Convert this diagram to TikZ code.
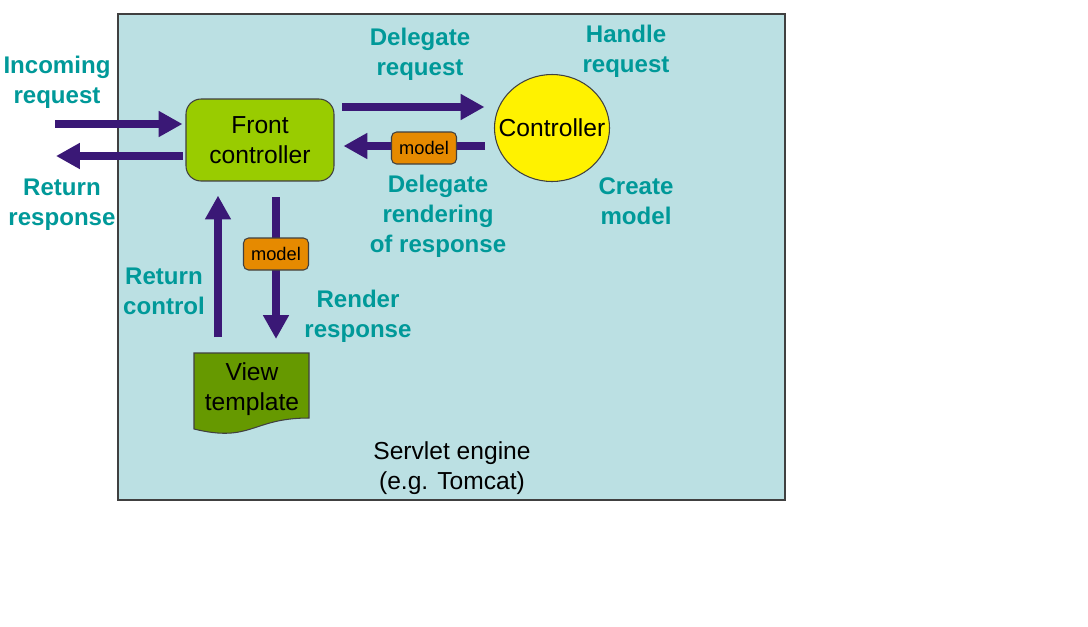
\documentclass[tikz,border=0pt]{standalone}
\usepackage{fontspec}
\setmainfont{Liberation Sans}
\usetikzlibrary{arrows.meta,shapes.geometric}
\definecolor{enginebg}{RGB}{187,224,227}
\definecolor{boxline}{RGB}{64,64,64}
\definecolor{flowc}{RGB}{58,24,118}
\definecolor{labelc}{RGB}{0,153,153}
\definecolor{fcgreen}{RGB}{153,204,0}
\definecolor{vtgreen}{RGB}{102,153,0}
\definecolor{modelc}{RGB}{230,138,0}
\tikzset{
  flow/.style={draw=flowc,line width=4.55pt,-{Triangle[length=13.6pt,width=14pt]}},
  lbl/.style={text=labelc,font=\fontsize{13.7}{17}\selectfont\bfseries,align=center,inner sep=0pt},
  txt/.style={font=\fontsize{14}{16.7}\selectfont,align=center,inner sep=0pt},
  fcbox/.style={txt,draw=boxline,fill=fcgreen,line width=0.6pt,rounded corners=0.3cm,
    minimum width=2.96cm,minimum height=1.64cm},
  ctbox/.style={txt,ellipse,draw=boxline,fill=yellow,line width=0.6pt,
    inner xsep=-7.2pt,inner ysep=0pt,minimum width=2.3cm,minimum height=2.14cm},
  modelbox/.style={draw=boxline,fill=modelc,line width=0.6pt,rounded corners=0.1cm,
    font=\fontsize{10.4}{12}\selectfont,inner sep=0pt,minimum width=1.3cm,minimum height=0.64cm}
}
\begin{document}
\begin{tikzpicture}[x=0.02cm,y=-0.02cm]
  \fill[white] (0,0) rectangle (1088,626);
  \useasboundingbox (0,0) rectangle (1088,626);
  % servlet engine
  \draw[draw=boxline,fill=enginebg,line width=0.8pt] (118,14) rectangle (785,500);
  \node[txt] (EN) at (452,468) {Servlet engine\\(e.g. Tomcat)};
  % nodes
  \node[fcbox] (FC) at (260,140) {Front\\controller};
  \node[ctbox] (CT) at (552,128) {Controller};
  \draw[draw=boxline,fill=vtgreen,line width=0.6pt] (194,353) -- (309,353) -- (309,418)
    .. controls (251.5,418) and (251.5,443) .. (194,429) -- cycle;
  \node[txt] (VT) at (252,389) {View\\template};
  \coordinate (VTop) at (252,353);
  % arrows
  \coordinate (IN) at (55,124);
  \coordinate (OUT) at (56,156);
  \coordinate (DR) at (342,107);
  \coordinate (DM) at (485,146);
  \coordinate (RC) at (218,337);
  \coordinate (RR) at (276,197);
  \draw[flow,shorten >=1.7pt] (IN) -- (IN -| FC.west);
  \draw[flow,shorten <=1.7pt] (OUT -| FC.west) -- (OUT);
  \draw[flow,shorten >=5.4pt] (DR) -- (DR -| CT.west);
  \draw[flow,shorten >=5.1pt] (DM) -- (DM -| FC.east);
  \draw[flow,shorten >=8pt] (RC) -- (RC |- FC.south);
  \draw[flow,shorten >=8pt] (RR) -- (RR |- VTop);
  \node[modelbox] (M1) at (424,148) {model};
  \node[modelbox] (M2) at (276,254) {model};
  % labels
  \node[lbl] (INl) at (57,82) {Incoming\\request};
  \node[lbl] (OUTl) at (62,205) {Return\\response};
  \node[lbl] (DRl) at (420,54) {Delegate\\request};
  \node[lbl] (HRl) at (626,51) {Handle\\request};
  \node[lbl] (DMl) at (438,216) {Delegate\\rendering\\of response};
  \node[lbl] (CMl) at (636,201) {Create\\model};
  \node[lbl] (RCl) at (164,291) {Return\\control};
  \node[lbl] (RRl) at (358,316) {Render\\response};
\end{tikzpicture}
\end{document}
